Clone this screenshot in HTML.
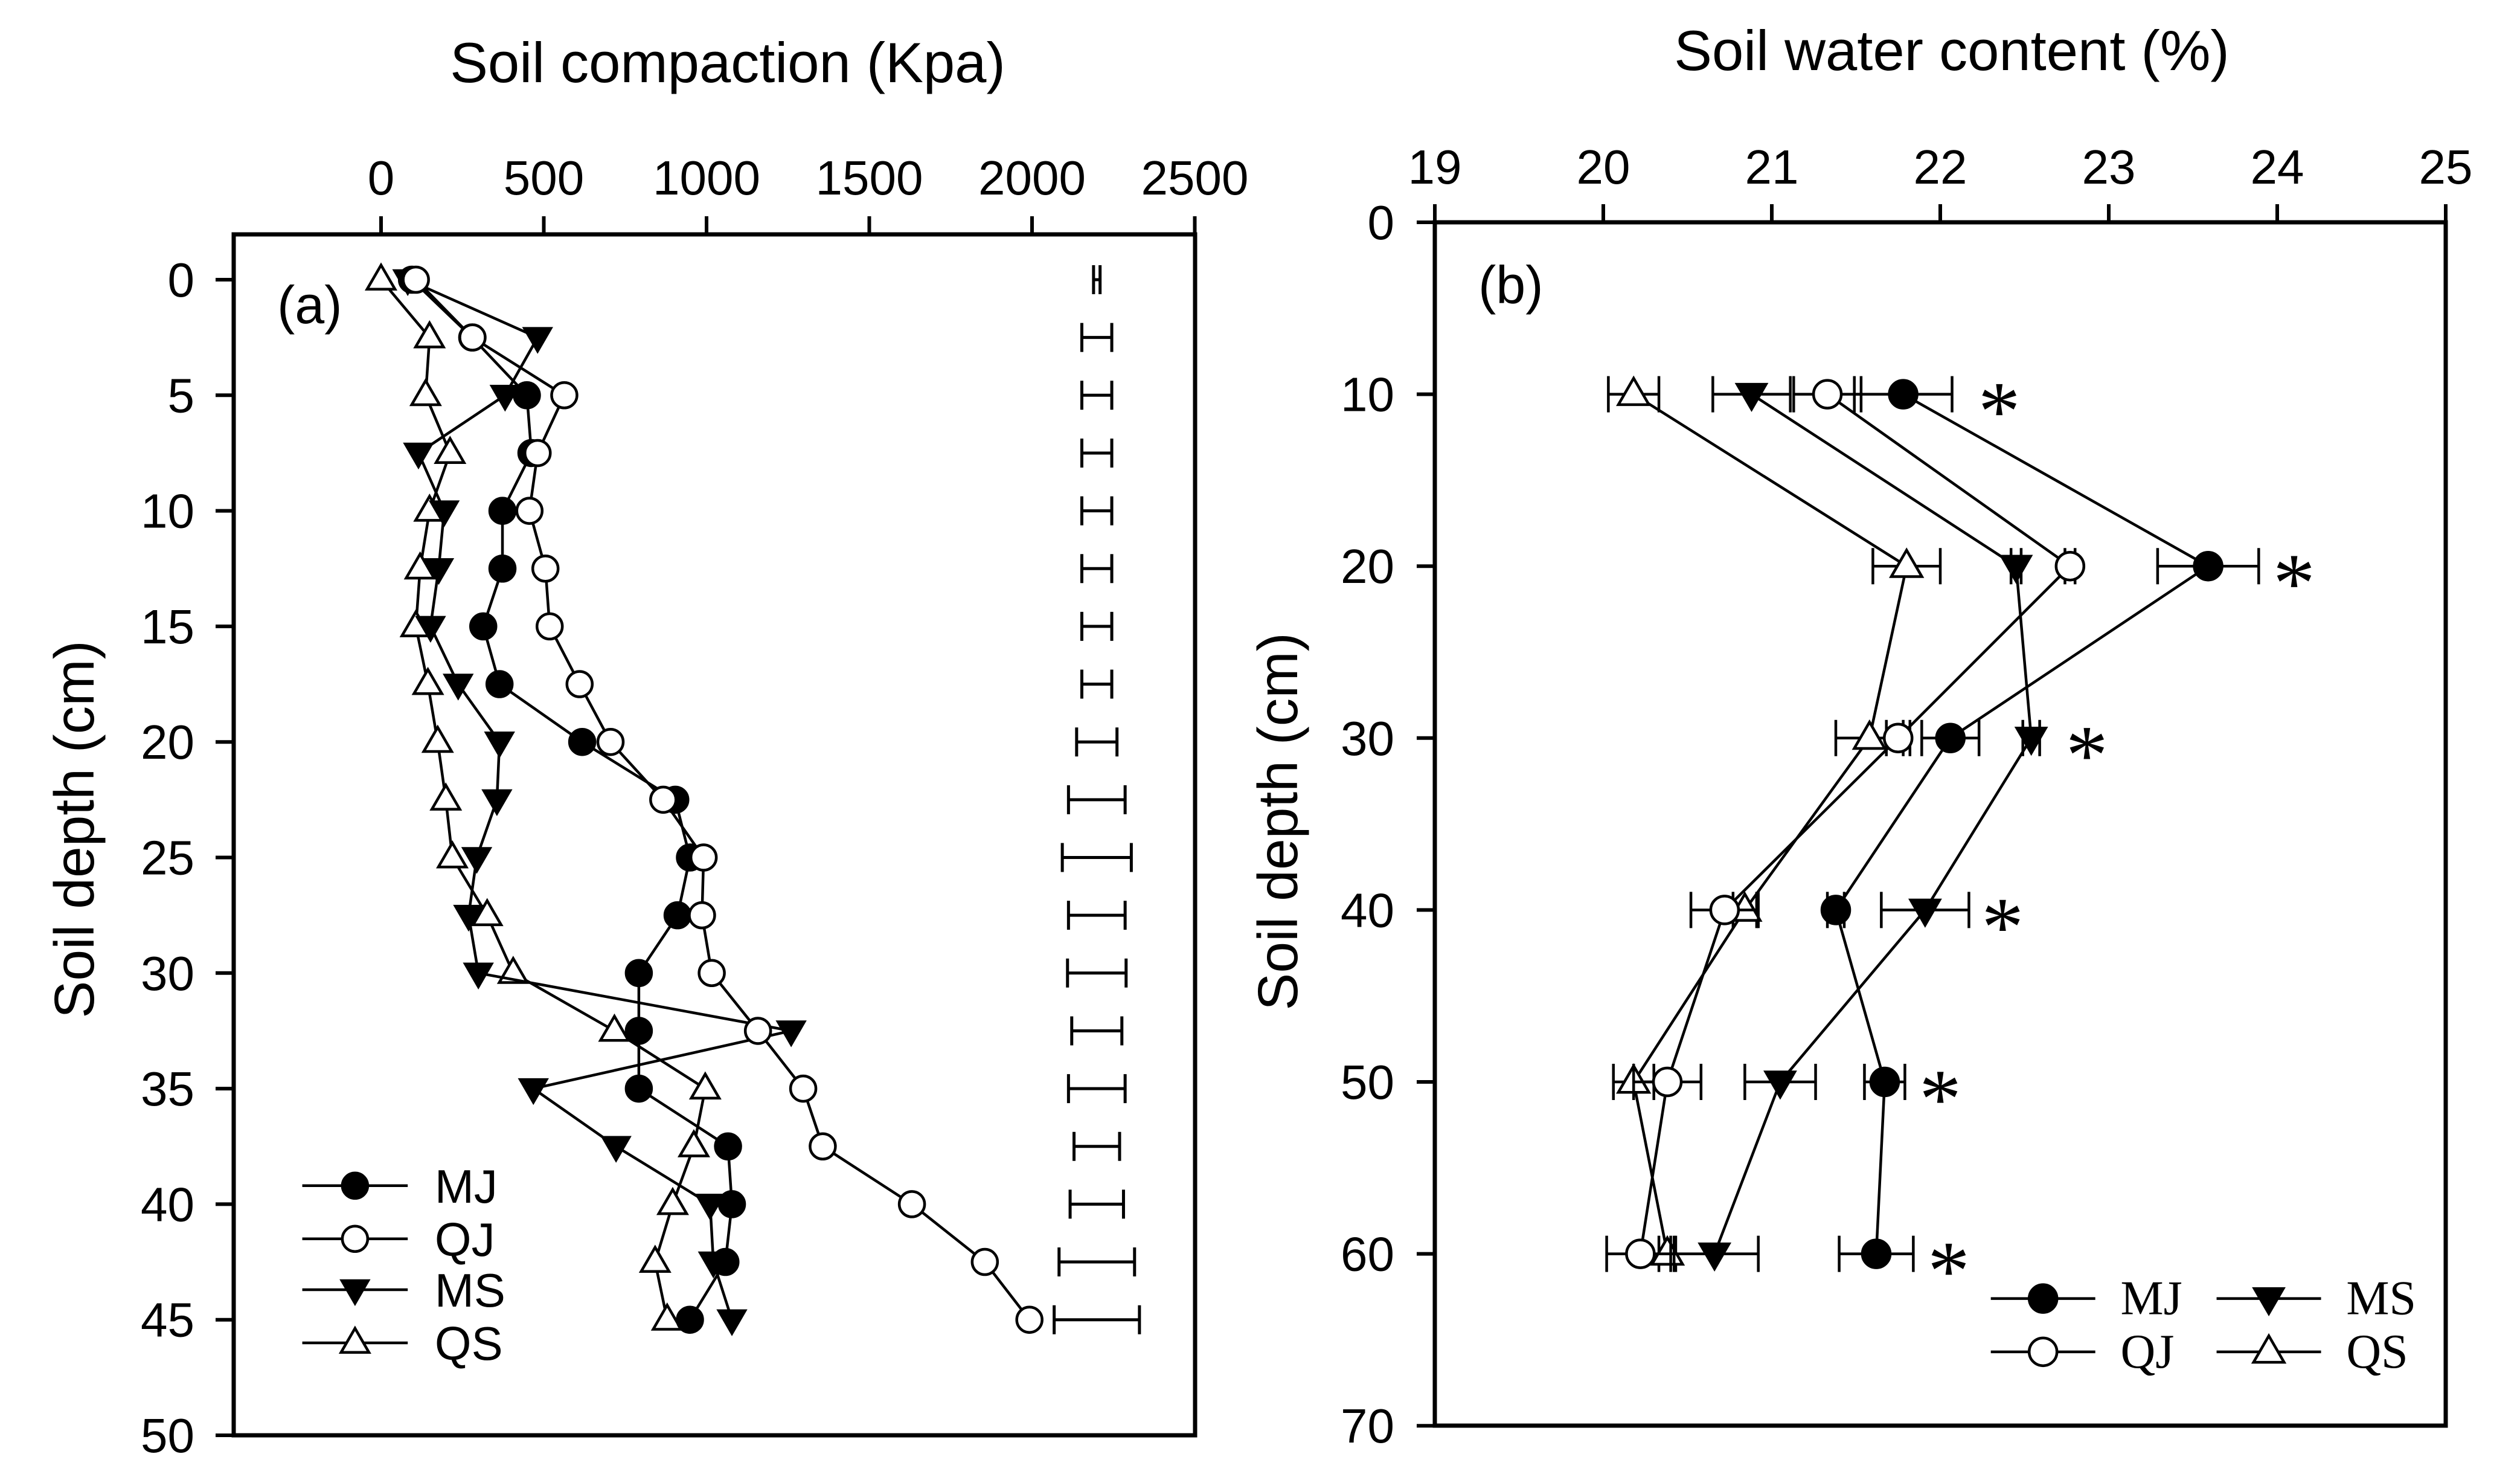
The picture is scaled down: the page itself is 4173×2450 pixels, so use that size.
<!DOCTYPE html>
<html><head><meta charset="utf-8"><style>html,body{margin:0;padding:0;background:#fff}svg{display:block}</style></head>
<body>
<svg id="chart" width="4173" height="2450" viewBox="0 0 4173 2450" xmlns="http://www.w3.org/2000/svg">
<rect width="4173" height="2450" fill="#fff"/>
<g id="pa"></g>
<g id="pb"></g>
</svg>
<script>
// Panel A data
const depthsA = [0,2.5,5,7.5,10,12.5,15,17.5,20,22.5,25,27.5,30,32.5,35,37.5,40,42.5,45];
const mjA = [95,280,448,462,373,373,314,364,618,904,949,911,792,792,792,1066,1078,1058,949];
const qjA = [107,281,563,481,456,505,518,610,705,867,991,986,1016,1158,1297,1357,1631,1855,1992];
const msA = [82,481,381,115,194,177,152,237,364,356,294,269,299,1260,468,722,1011,1021,1078];
const qsA = [0,149,137,212,149,120,107,144,174,199,219,326,406,717,996,961,896,842,879];
const lsdHalfA = [10,46,46,46,46,46,46,46,62,87,106,87,90,77,87,70,82,116,131];
const lsdCenterA = 2199;
const xTicksA = [0,500,1000,1500,2000,2500];
const xTickLabelsA = ["0","500","1000","1500","2000","2500"];
const yTicksA = [0,5,10,15,20,25,30,35,40,45,50];
// Panel B data
const depthsB = [10,20,30,40,50,60];
const mjB = [21.78,23.59,22.06,21.38,21.67,21.62];
const mjErrB = [0.29,0.30,0.17,0.05,0.12,0.22];
const qjB = [21.33,22.77,21.75,20.72,20.38,20.22];
const qjErrB = [0.2,0.03,0.07,0.2,0.2,0.2];
const msB = [20.88,22.45,22.54,21.91,21.05,20.66];
const msErrB = [0.23,0.03,0.05,0.26,0.21,0.26];
const qsB = [20.18,21.8,21.58,20.84,20.18,20.38];
const qsErrB = [0.15,0.2,0.2,0.07,0.12,0.05];
const starXB = [22.35,24.1,22.87,22.37,22.0,22.05];
const xTicksB = [19,20,21,22,23,24,25];
const yTicksB = [0,10,20,30,40,50,60,70];

const NS="http://www.w3.org/2000/svg";
function mk(parent,tag,attrs){const e=document.createElementNS(NS,tag);for(const k in attrs)e.setAttribute(k,attrs[k]);parent.appendChild(e);return e;}
const SANS='"Liberation Sans", Arial, sans-serif', SERIF='"Liberation Serif", "Times New Roman", serif';

const xA=v=>631+v*0.539, yA=d=>463+d*38.26;
const xB=v=>2376+(v-19)*279, yB=d=>368+d*28.46;

function marker(g,type,cx,cy,r){
  let e;
  if(type==='fc'||type==='oc'){e=mk(g,'circle',{cx:cx,cy:cy,r:r,fill:type==='fc'?'#000':'#fff',stroke:'#000','stroke-width':4.5});}
  else if(type==='dt'){e=mk(g,'polygon',{points:`${cx-r*1.1},${cy-r*0.75} ${cx+r*1.1},${cy-r*0.75} ${cx},${cy+r*1.15}`,fill:'#000',stroke:'#000','stroke-width':3});}
  else {e=mk(g,'polygon',{points:`${cx-r*1.1},${cy+r*0.75} ${cx+r*1.1},${cy+r*0.75} ${cx},${cy-r*1.15}`,fill:'#fff',stroke:'#000','stroke-width':4.5});}
  
  
  return e;
}
function txt(g,x,y,s,size,anchor,fam,name){const t=mk(g,'text',{x:x,y:y,'font-size':size,'text-anchor':anchor,'font-family':fam,fill:'#000'});t.textContent=s;
  
  
  return t;}

// ---------- Panel A ----------
const pa=document.getElementById('pa');
{
  const L=387,R=1979,T=388,B=2376;
  const box=mk(pa,'rect',{x:L,y:T,width:R-L,height:B-T,fill:'none',stroke:'#000','stroke-width':7});
  
  
  xTicksA.forEach((v,i)=>{const x=xA(v);mk(pa,'line',{x1:x,y1:T,x2:x,y2:T-30,stroke:'#000','stroke-width':6});
    txt(pa,x,322,xTickLabelsA[i],80,'middle',SANS,'x-tick-label-a');});
  yTicksA.forEach(d=>{const y=yA(d);mk(pa,'line',{x1:L,y1:y,x2:L-30,y2:y,stroke:'#000','stroke-width':6});
    txt(pa,322,y+28,String(d),80,'end',SANS,'y-tick-label-a');});
  txt(pa,1205,136,'Soil compaction (Kpa)',94,'middle',SANS,'x-axis-title-a');
  const yt=txt(pa,0,0,'Soil depth (cm)',93,'middle',SANS,'y-axis-title-a');yt.setAttribute('transform','translate(155,1373) rotate(-90)');
  txt(pa,459,535,'(a)',88,'start',SANS,'panel-label-a');
  depthsA.forEach((d,i)=>{const y=yA(d),x1=xA(lsdCenterA-lsdHalfA[i]),x2=xA(lsdCenterA+lsdHalfA[i]);
    const g=mk(pa,'g',{stroke:'#000','stroke-width':5});
    
    
    mk(g,'line',{x1:x1,y1:y,x2:x2,y2:y});mk(g,'line',{x1:x1,y1:y-24,x2:x1,y2:y+24});mk(g,'line',{x1:x2,y1:y-24,x2:x2,y2:y+24});});
  const series=[['qs',qsA,'ut'],['ms',msA,'dt'],['mj',mjA,'fc'],['qj',qjA,'oc']];
  series.forEach(([n,vals,m])=>{const g=mk(pa,'g',{});
    
    
    mk(g,'polyline',{points:vals.map((v,i)=>xA(v)+','+yA(depthsA[i])).join(' '),fill:'none',stroke:'#000','stroke-width':4.5});
    vals.forEach((v,i)=>marker(g,m,xA(v),yA(depthsA[i]),21));});
  const leg=[['MJ','fc',39.2],['QJ','oc',41.5],['MS','dt',43.7],['QS','ut',46.0]];
  const lg=mk(pa,'g',{});
  
  
  leg.forEach(([s,m,d])=>{const y=yA(d);mk(lg,'line',{x1:xA(-242),y1:y,x2:xA(82),y2:y,stroke:'#000','stroke-width':4.5});
    marker(lg,m,xA(-80),y,21);txt(lg,xA(165),y+28,s,78,'start',SANS,'legend-entry-a');});
}

// ---------- Panel B ----------
const pb=document.getElementById('pb');
{
  const L=2376,R=4050,T=368,B=2360;
  const box=mk(pb,'rect',{x:L,y:T,width:R-L,height:B-T,fill:'none',stroke:'#000','stroke-width':7});
  
  
  xTicksB.forEach(v=>{const x=xB(v);mk(pb,'line',{x1:x,y1:T,x2:x,y2:T-30,stroke:'#000','stroke-width':6});
    txt(pb,x,304,String(v),80,'middle',SANS,'x-tick-label-b');});
  yTicksB.forEach(d=>{const y=yB(d);mk(pb,'line',{x1:L,y1:y,x2:L-30,y2:y,stroke:'#000','stroke-width':6});
    txt(pb,2309,y+28,String(d),80,'end',SANS,'y-tick-label-b');});
  txt(pb,3232,116,'Soil water content (%)',94,'middle',SANS,'x-axis-title-b');
  const yt=txt(pb,0,0,'Soil depth (cm)',93,'middle',SANS,'y-axis-title-b');yt.setAttribute('transform','translate(2148,1360) rotate(-90)');
  txt(pb,2448,502,'(b)',88,'start',SANS,'panel-label-b');
  const series=[['qs',qsB,qsErrB,'ut'],['ms',msB,msErrB,'dt'],['qj',qjB,qjErrB,'oc'],['mj',mjB,mjErrB,'fc']];
  series.forEach(([n,vals,errs,m])=>{const g=mk(pb,'g',{});
    
    
    vals.forEach((v,i)=>{const y=yB(depthsB[i]),x1=xB(v-errs[i]),x2=xB(v+errs[i]);
      mk(g,'line',{x1:x1,y1:y,x2:x2,y2:y,stroke:'#000','stroke-width':4.5});
      mk(g,'line',{x1:x1,y1:y-30,x2:x1,y2:y+30,stroke:'#000','stroke-width':4.5});
      mk(g,'line',{x1:x2,y1:y-30,x2:x2,y2:y+30,stroke:'#000','stroke-width':4.5});});
    mk(g,'polyline',{points:vals.map((v,i)=>xB(v)+','+yB(depthsB[i])).join(' '),fill:'none',stroke:'#000','stroke-width':4.5});
    vals.forEach((v,i)=>marker(g,m,xB(v),yB(depthsB[i]),23));});
  starXB.forEach((v,i)=>txt(pb,xB(v),yB(depthsB[i])+75,'*',140,'middle',SERIF,'significance-star'));
  const lg=mk(pb,'g',{});
  
  
  const leg=[['MJ','fc',22.30,62.6],['QJ','oc',22.30,65.7],['MS','dt',23.64,62.6],['QS','ut',23.64,65.7]];
  leg.forEach(([s,m,x0,d])=>{const y=yB(d);mk(lg,'line',{x1:xB(x0),y1:y,x2:xB(x0+0.62),y2:y,stroke:'#000','stroke-width':4.5});
    marker(lg,m,xB(x0+0.31),y,23);txt(lg,xB(x0+0.77),y+26,s,80,'start',SERIF,'legend-entry-b');});
}
</script>
</body></html>
